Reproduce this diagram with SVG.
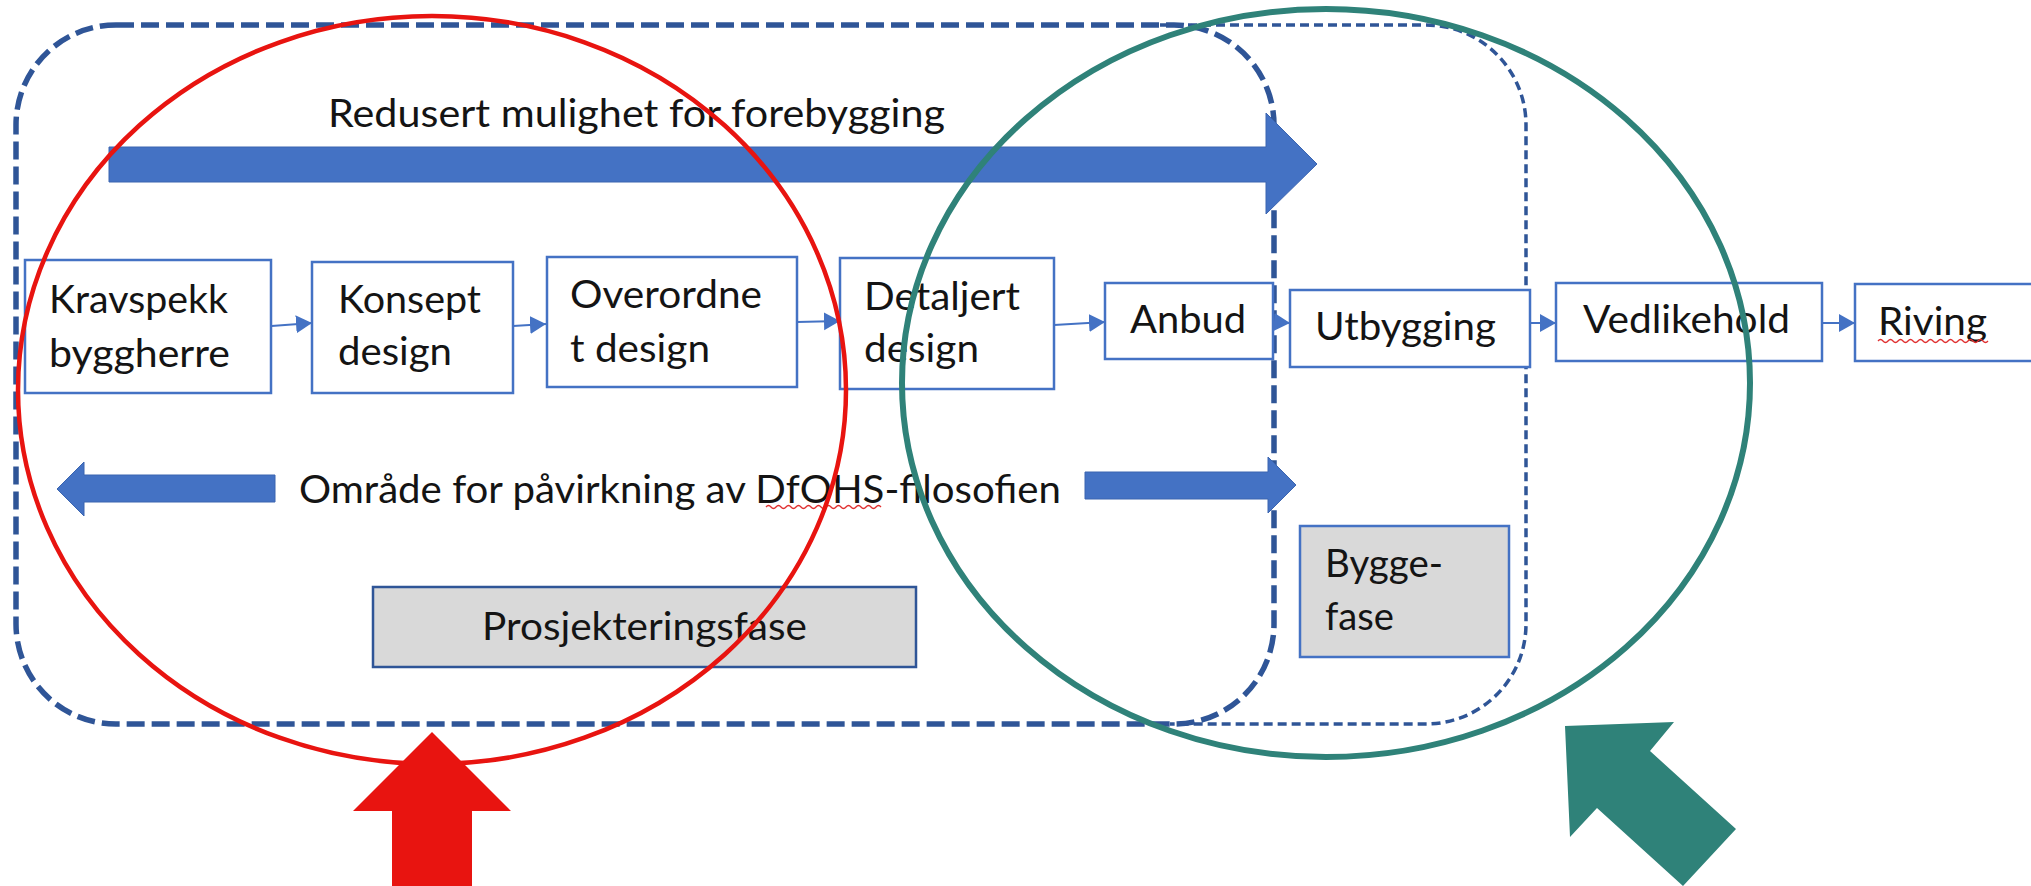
<svg xmlns="http://www.w3.org/2000/svg" width="2031" height="886" viewBox="0 0 2031 886">
<style>
text{font-family:Lato,"Open Sans","Liberation Sans",sans-serif;font-size:38px;fill:#141414}
.box{fill:#fff;stroke:#4472C4;stroke-width:2.5}
.phase{fill:#D9D9D9;stroke:#4472C4;stroke-width:2.5}
.phase2{fill:#D9D9D9;stroke:#2F5597;stroke-width:2.5}
.barrow{fill:#4472C4;stroke:#3A64B0;stroke-width:1}
.conn{stroke:#4472C4;stroke-width:2;fill:none}
.squig{stroke:#E03030;stroke-width:1.3;fill:none}
</style>
<defs>
<marker id="tri" markerUnits="userSpaceOnUse" markerWidth="18" markerHeight="20" refX="16" refY="9" orient="auto">
<path d="M0,0 L16,9 L0,18 Z" fill="#4472C4"/>
</marker>
</defs>
<rect width="2031" height="886" fill="#fff"/>
<g id="bygge-frame">
<path d="M1160,25 L1426,25 A100,100 0 0 1 1526,125 L1526,624 A100,100 0 0 1 1426,724 L1170,724" fill="none" stroke="#2F5597" stroke-width="3.5" stroke-dasharray="9 5"/>
</g>
<g id="prosjektering-frame">
<rect x="16" y="25" width="1258" height="699" rx="100" ry="100" fill="none" stroke="#2F5597" stroke-width="5.5" stroke-dasharray="18 7"/>
</g>
<g id="arrow-redusert">
<polygon class="barrow" points="109,147 1266,147 1266,113 1317,164 1266,214 1266,182 109,182"/>
<text x="328" y="127" textLength="617" lengthAdjust="spacingAndGlyphs">Redusert mulighet for forebygging</text>
</g>
<g id="arrow-omrade">
<polygon class="barrow" points="57,489 84,462 84,475 275,475 275,502 84,502 84,516"/>
<polygon class="barrow" points="1085,472 1268,472 1268,457 1296,485 1268,513 1268,499 1085,499"/>
<text x="299" y="503" textLength="762" lengthAdjust="spacingAndGlyphs">Område for påvirkning av DfOHS-filosofien</text>
<path class="squig" d="M766,507 q2.5,-3 5,0 t5,0 t5,0 t5,0 t5,0 t5,0 t5,0 t5,0 t5,0 t5,0 t5,0 t5,0 t5,0 t5,0 t5,0 t5,0 t5,0 t5,0 t5,0 t5,0 t5,0 t5,0 t5,0"/>
</g>
<g id="connectors">
<line class="conn" x1="258" y1="327" x2="312" y2="323" marker-end="url(#tri)"/>
<line class="conn" x1="513" y1="326" x2="546" y2="324" marker-end="url(#tri)"/>
<line class="conn" x1="797" y1="322" x2="840" y2="321" marker-end="url(#tri)"/>
<line class="conn" x1="1054" y1="325" x2="1105" y2="322" marker-end="url(#tri)"/>
<line class="conn" x1="1273" y1="322" x2="1290" y2="323" marker-end="url(#tri)"/>
<line class="conn" x1="1530" y1="323" x2="1556" y2="323" marker-end="url(#tri)"/>
<line class="conn" x1="1822" y1="323" x2="1855" y2="323" marker-end="url(#tri)"/>
</g>
<g id="kravspekk">
<rect class="box" x="25" y="260" width="246" height="133"/>
<text x="49" y="313" textLength="179" lengthAdjust="spacingAndGlyphs">Kravspekk</text>
<text x="49" y="367" textLength="181" lengthAdjust="spacingAndGlyphs">byggherre</text>
</g>
<g id="konsept">
<rect class="box" x="312" y="262" width="201" height="131"/>
<text x="338" y="313" textLength="143" lengthAdjust="spacingAndGlyphs">Konsept</text>
<text x="338" y="365" textLength="114" lengthAdjust="spacingAndGlyphs">design</text>
</g>
<g id="overordnet">
<rect class="box" x="547" y="257" width="250" height="130"/>
<text x="570" y="308" textLength="192" lengthAdjust="spacingAndGlyphs">Overordne</text>
<text x="570" y="362" textLength="140" lengthAdjust="spacingAndGlyphs">t design</text>
</g>
<g id="detaljert">
<rect class="box" x="840" y="258" width="214" height="131"/>
<text x="864" y="310" textLength="156" lengthAdjust="spacingAndGlyphs">Detaljert</text>
<text x="864" y="362" textLength="115" lengthAdjust="spacingAndGlyphs">design</text>
</g>
<g id="anbud">
<rect class="box" x="1105" y="283" width="168" height="76"/>
<text x="1130" y="333" textLength="116" lengthAdjust="spacingAndGlyphs">Anbud</text>
</g>
<g id="utbygging">
<rect class="box" x="1290" y="290" width="240" height="77"/>
<text x="1315" y="340" textLength="181" lengthAdjust="spacingAndGlyphs">Utbygging</text>
</g>
<g id="vedlikehold">
<rect class="box" x="1556" y="283" width="266" height="78"/>
<text x="1583" y="333" textLength="207" lengthAdjust="spacingAndGlyphs">Vedlikehold</text>
</g>
<g id="riving">
<rect class="box" x="1855" y="284" width="190" height="77"/>
<text x="1878" y="335" textLength="109" lengthAdjust="spacingAndGlyphs">Riving</text>
<path class="squig" d="M1878,341 q2.5,-3 5,0 t5,0 t5,0 t5,0 t5,0 t5,0 t5,0 t5,0 t5,0 t5,0 t5,0 t5,0 t5,0 t5,0 t5,0 t5,0 t5,0 t5,0 t5,0 t5,0 t5,0 t5,0"/>
</g>
<g id="prosjekteringsfase">
<rect class="phase2" x="373" y="587" width="543" height="80"/>
<text x="482" y="640" textLength="325" lengthAdjust="spacingAndGlyphs">Prosjekteringsfase</text>
</g>
<g id="byggefase">
<rect class="phase" x="1300" y="526" width="209" height="131"/>
<text x="1325" y="577" textLength="118" lengthAdjust="spacingAndGlyphs">Bygge-</text>
<text x="1325" y="630" textLength="69" lengthAdjust="spacingAndGlyphs">fase</text>
</g>
<g id="red-highlight">
<ellipse cx="432" cy="390" rx="414" ry="374" fill="none" stroke="#E81410" stroke-width="4.5"/>
<polygon points="432,732 511,811 472,811 472,886 392,886 392,811 353,811" fill="#E81410"/>
</g>
<g id="teal-highlight">
<ellipse cx="1326" cy="383" rx="424" ry="374" fill="none" stroke="#2F8279" stroke-width="6"/>
<polygon points="1565,726 1674,722 1650,751 1736,829 1683,886 1597,808 1570,837" fill="#2F8279"/>
</g>
</svg>
